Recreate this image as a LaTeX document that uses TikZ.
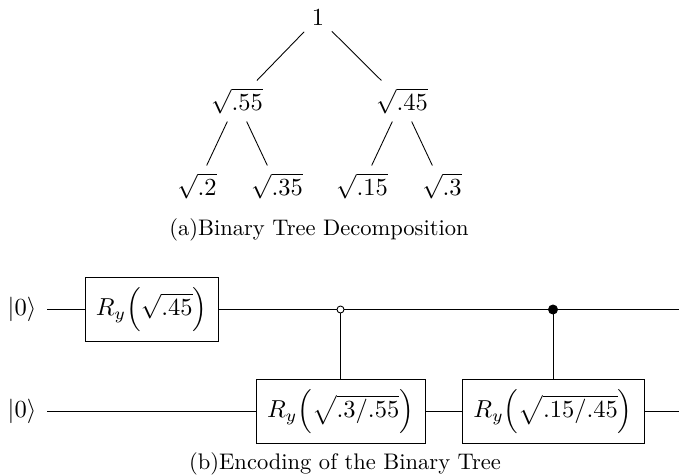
\documentclass[tikz,border=0pt]{standalone}
\usepackage{graphicx}
\newcommand{\mth}[1]{\scalebox{1.114}{$#1$}}
\begin{document}
\begin{tikzpicture}[x=0.4545pt,y=-0.4545pt,
  treenode/.style={inner sep=.3333em},
  gatebox/.style={draw,minimum height=64*0.4545pt,inner sep=0pt},
  ketnode/.style={minimum width=50*0.4545pt,inner sep=0pt},
  opendot/.style={circle,draw,fill=white,inner sep=0pt,minimum size=7*0.4545pt},
  soliddot/.style={circle,draw,fill=black,inner sep=0pt,minimum size=9*0.4545pt},
  wire/.style={line width=0.45pt},
  captiontext/.style={inner sep=0pt,font=\fontsize{10.24}{12}\selectfont}]
\useasboundingbox (0,0) rectangle (679,474);
% tree
\node[treenode] (r) at (318,17.5) {\mth{1}};
\node[treenode] (a) at (237,101) {\mth{\sqrt{.55}}};
\node[treenode] (b) at (402,101) {\mth{\sqrt{.45}}};
\node[treenode] (aa) at (197,186) {\mth{\sqrt{.2}}};
\node[treenode] (ab) at (277,186) {\mth{\sqrt{.35}}};
\node[treenode] (ba) at (362,186) {\mth{\sqrt{.15}}};
\node[treenode] (bb) at (442,186) {\mth{\sqrt{.3}}};
\draw (r) -- (a);
\draw (r) -- (b);
\draw (a) -- (aa);
\draw (a) -- (ab);
\draw (b) -- (ba);
\draw (b) -- (bb);
\node[captiontext] (capa) at (319,229.5) {(a)Binary Tree Decomposition};
% circuit
\node[ketnode] (k1) at (22,309.5) {\mth{|0\rangle}};
\node[ketnode] (k2) at (22,411.5) {\mth{|0\rangle}};
\node[gatebox,minimum width=133*0.4545pt] (g1) at (151.5,309.5) {\mth{R_y\Bigl(\sqrt{.45}\Bigr)}};
\node[gatebox,minimum width=169*0.4545pt] (g2) at (340.5,411.5) {\mth{R_y\Bigl(\sqrt{.3/.55}\Bigr)}};
\node[gatebox,minimum width=182*0.4545pt] (g3) at (553,411.5) {\mth{R_y\Bigl(\sqrt{.15/.45}\Bigr)}};
\node[opendot] (c1) at (340.5,309.5) {};
\node[soliddot] (c2) at (553,309.5) {};
\coordinate (e1) at (679,309.5);
\coordinate (e2) at (679,411.5);
\draw[wire] (k1) -- (g1);
\draw[wire] (g1) -- (c1);
\draw[wire] (c1) -- (c2);
\draw[wire] (c2) -- (e1);
\draw[wire] (k2) -- (g2);
\draw[wire] (g2) -- (g3);
\draw[wire] (g3) -- (e2);
\draw[wire] (c1) -- (g2);
\draw[wire] (c2) -- (g3);
\node[captiontext] (capb) at (345,464) {(b)Encoding of the Binary Tree};
\end{tikzpicture}
\end{document}
